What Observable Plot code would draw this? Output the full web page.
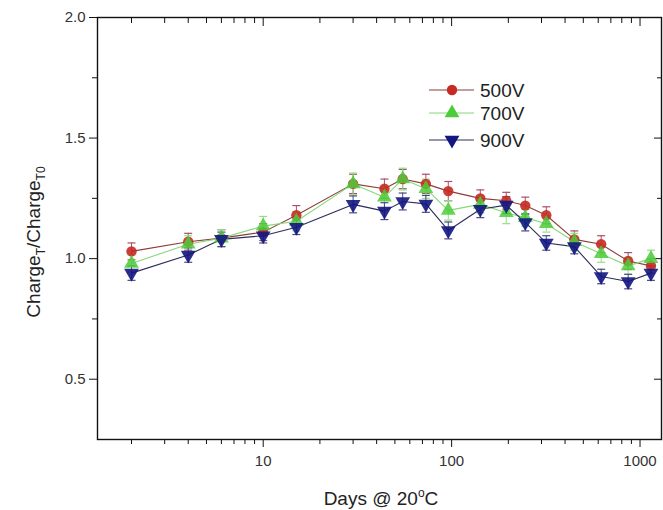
<!DOCTYPE html>
<html>
<head>
<meta charset="utf-8">
<script src="https://cdn.jsdelivr.net/npm/d3@7"></script>
<script src="https://cdn.jsdelivr.net/npm/@observablehq/plot@0.6"></script>
<style>
  html, body { margin: 0; padding: 0; background: white; }
  #chart { width: 663px; height: 510px; }
</style>
</head>
<body>
<div id="chart"></div>
<script>
// ---- data ----
const days = [2, 4, 6, 10, 15, 30, 44, 55, 73, 96, 142, 195, 246, 318, 448, 622, 865, 1143];
const v500 = [1.03, 1.07, 1.085, 1.11, 1.18, 1.31, 1.29, 1.33, 1.31, 1.28, 1.25, 1.24, 1.22, 1.18, 1.08, 1.06, 0.99, 0.97];
const e500 = [0.035, 0.035, 0.035, 0.035, 0.04, 0.04, 0.04, 0.04, 0.04, 0.04, 0.035, 0.035, 0.035, 0.035, 0.035, 0.035, 0.035, 0.03];
const v700 = [0.98, 1.06, 1.085, 1.135, 1.155, 1.31, 1.255, 1.33, 1.29, 1.20, 1.225, 1.19, 1.17, 1.145, 1.07, 1.02, 0.97, 1.00];
const e700 = [0.035, 0.035, 0.035, 0.04, 0.04, 0.045, 0.045, 0.045, 0.04, 0.04, 0.035, 0.045, 0.035, 0.035, 0.035, 0.035, 0.035, 0.035];
const v900 = [0.94, 1.015, 1.08, 1.095, 1.13, 1.225, 1.197, 1.237, 1.227, 1.117, 1.205, 1.222, 1.15, 1.065, 1.05, 0.926, 0.905, 0.94];
const e900 = [0.03, 0.03, 0.03, 0.03, 0.03, 0.035, 0.035, 0.035, 0.035, 0.035, 0.035, 0.035, 0.035, 0.03, 0.03, 0.03, 0.03, 0.03];
const seriesNames = ["500V", "700V", "900V"];
const markerColors = ["#c62a22", "#4ccc3a", "#131681"];
const lineColors = ["#8e3b3b", "#86d87a", "#2c2c5c"];
const errColors = ["#a8506a", "#8fe084", "#4a4a80"];
const xMajor = [10, 100, 1000];
const xMinor = [2, 3, 4, 5, 6, 7, 8, 9, 20, 30, 40, 50, 60, 70, 80, 90, 200, 300, 400, 500, 600, 700, 800, 900];
const yMajor = [0.5, 1.0, 1.5, 2.0];
const yMinor = [0.75, 1.25, 1.75];

// ---- build table ----
const values = [v500, v700, v900];
const errs = [e500, e700, e900];
const rows = [];
seriesNames.forEach((s, i) => {
  days.forEach((d, j) => rows.push({series: s, si: i, x: d, y: values[i][j], e: errs[i][j]}));
});
const bySeries = i => rows.filter(r => r.si === i);

const capSymbol = {
  draw(ctx, size) {
    const w = Math.sqrt(size / Math.PI);
    ctx.moveTo(-w, 0);
    ctx.lineTo(w, 0);
  }
};

const marks = [
  Plot.frame({stroke: "#111", strokeWidth: 1.4}),
  Plot.axisX(xMajor, {anchor: "bottom", tickSize: 8, tickPadding: 8, tickFormat: d => String(d), label: null, fontSize: 15, stroke: "#111", color: "#333"}),
  Plot.axisX(xMinor, {anchor: "bottom", tickSize: 5, tickFormat: () => "", label: null, stroke: "#111"}),
  Plot.axisX(xMajor, {anchor: "top", tickSize: -8, tickFormat: () => "", label: null, stroke: "#111"}),
  Plot.axisX(xMinor, {anchor: "top", tickSize: -5, tickFormat: () => "", label: null, stroke: "#111"}),
  Plot.axisY(yMajor, {anchor: "left", tickSize: 8, tickPadding: 4, tickFormat: d => d.toFixed(1), label: null, fontSize: 15, stroke: "#111"}),
  Plot.axisY(yMinor, {anchor: "left", tickSize: 5, tickFormat: () => "", label: null, stroke: "#111"}),
  Plot.axisY(yMajor, {anchor: "right", tickSize: -8, tickFormat: () => "", label: null, stroke: "#111"}),
  Plot.axisY(yMinor, {anchor: "right", tickSize: -5, tickFormat: () => "", label: null, stroke: "#111"})
];

[0, 1, 2].forEach(i => {
  const data = bySeries(i);
  marks.push(
    Plot.ruleX(data, {x: "x", y1: d => d.y - d.e, y2: d => d.y + d.e, stroke: errColors[i], strokeWidth: 1}),
    Plot.dot(data, {x: "x", y: d => d.y - d.e, symbol: capSymbol, r: 4, stroke: errColors[i], strokeWidth: 1.2, fill: "none"}),
    Plot.dot(data, {x: "x", y: d => d.y + d.e, symbol: capSymbol, r: 4, stroke: errColors[i], strokeWidth: 1.2, fill: "none"}),
    Plot.line(data, {x: "x", y: "y", stroke: lineColors[i], strokeWidth: 1.1})
  );
});
marks.push(
  Plot.dot(bySeries(0), {x: "x", y: "y", r: 5.2, symbol: "circle", fill: markerColors[0], fillOpacity: 0.9, stroke: "none"}),
  Plot.dot(bySeries(1), {x: "x", y: "y", r: 5.5, symbol: "triangle", fill: markerColors[1], fillOpacity: 0.85, stroke: "none"}),
  Plot.dot(bySeries(2), {x: "x", y: "y", r: 5.5, symbol: "triangle", rotate: 180, fill: markerColors[2], fillOpacity: 0.9, stroke: "none"})
);

const chart = Plot.plot({
  width: 663,
  height: 510,
  marginLeft: 97,
  marginRight: 2,
  marginTop: 17,
  marginBottom: 71,
  style: {fontFamily: "'Liberation Sans', Arial, sans-serif", fontSize: "15px", color: "#333", background: "white", overflow: "visible"},
  x: {type: "log", domain: [1.32, 1300]},
  y: {domain: [0.25, 2.0]},
  marks
});

const svg = d3.select(chart);
const ff = "'Liberation Sans', Arial, sans-serif";
// y label with subscripts
const yl = svg.append("text")
  .attr("transform", "translate(40,242) rotate(-90)")
  .attr("text-anchor", "middle")
  .attr("font-family", ff).attr("font-size", 19).attr("fill", "#222");
yl.append("tspan").text("Charge");
yl.append("tspan").attr("font-size", 12).attr("dy", 5).text("T");
yl.append("tspan").attr("dy", -5).text("/Charge");
yl.append("tspan").attr("font-size", 12).attr("dy", 5).text("T0");
// x label with superscript degree
const xl = svg.append("text")
  .attr("x", 381).attr("y", 505)
  .attr("text-anchor", "middle")
  .attr("font-family", ff).attr("font-size", 19).attr("fill", "#222");
xl.append("tspan").text("Days @ 20");
xl.append("tspan").attr("font-size", 12).attr("dy", -8).text("o");
xl.append("tspan").attr("dy", 8).text("C");

// legend
const ly = [90, 113, 140];
const lg = svg.append("g").attr("text-anchor", "start");
seriesNames.forEach((s, i) => {
  lg.append("line").attr("x1", 429).attr("x2", 474).attr("y1", ly[i]).attr("y2", ly[i])
    .attr("stroke", lineColors[i]).attr("stroke-width", 1.1);
  const cx = 452, cy = ly[i];
  if (i === 0) {
    lg.append("circle").attr("cx", cx).attr("cy", cy).attr("r", 5.2).attr("fill", markerColors[0]);
  } else {
    const t = d3.symbol(d3.symbolTriangle, 5.5 * 5.5 * Math.PI)();
    lg.append("path").attr("d", t).attr("transform", `translate(${cx},${cy})` + (i === 2 ? " rotate(180)" : ""))
      .attr("fill", markerColors[i]);
  }
  lg.append("text").attr("x", 480).attr("y", cy + 7).attr("text-anchor", "start")
    .attr("font-family", ff).attr("font-size", 19).attr("fill", "#222").text(s);
});

document.getElementById("chart").appendChild(chart);
</script>
</body>
</html>
